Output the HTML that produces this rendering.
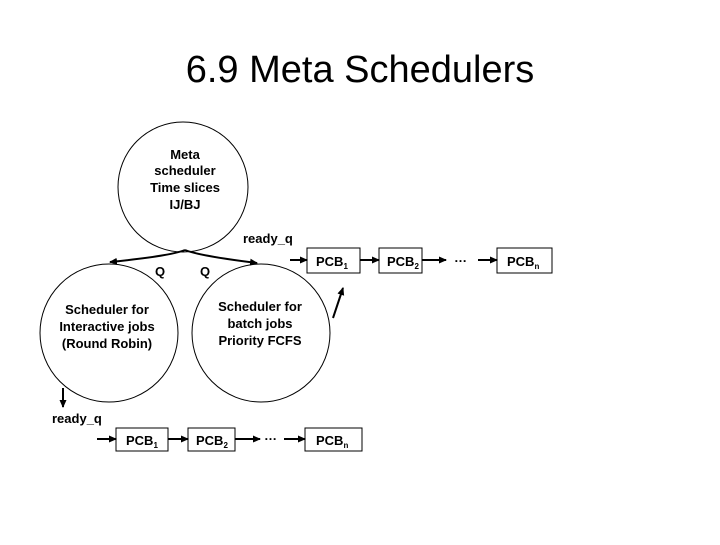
<!DOCTYPE html>
<html><head><style>
body{margin:0;background:#fff;width:720px;height:540px;overflow:hidden}
svg text{font-family:"Liberation Sans",Arial,sans-serif;font-weight:bold;fill:#000}
</style></head><body>
<svg width="720" height="540" viewBox="0 0 720 540" xmlns="http://www.w3.org/2000/svg">
<defs><marker id="a" markerWidth="8" markerHeight="8" refX="7" refY="4" orient="auto" markerUnits="userSpaceOnUse"><path d="M0,0.5 L8,4 L0,7.5z" fill="#000"/></marker></defs>
<text x="360" y="82" text-anchor="middle" style="font-weight:normal;font-size:38px">6.9 Meta Schedulers</text>
<g fill="none" stroke="#000" stroke-width="1">
<circle cx="183" cy="187" r="65"/>
<circle cx="109" cy="333" r="69"/>
<circle cx="261" cy="333" r="69"/>
</g>
<g font-size="13" text-anchor="middle">
<text x="185" y="159">Meta</text><text x="185" y="175">scheduler</text><text x="185" y="192">Time slices</text><text x="185" y="209">IJ/BJ</text>
<text x="107" y="314">Scheduler for</text><text x="107" y="331">Interactive jobs</text><text x="107" y="348">(Round Robin)</text>
<text x="260" y="311">Scheduler for</text><text x="260" y="328">batch jobs</text><text x="260" y="345">Priority FCFS</text>
</g>
<g fill="none" stroke="#000" stroke-width="2">
<path d="M185,250 Q170,256 110,262" marker-end="url(#a)"/>
<path d="M185,250 Q200,256 257,263" marker-end="url(#a)"/>
<line x1="290" y1="260" x2="307" y2="260" marker-end="url(#a)"/>
<line x1="360" y1="260" x2="379" y2="260" marker-end="url(#a)"/>
<line x1="422" y1="260" x2="446" y2="260" marker-end="url(#a)"/>
<line x1="478" y1="260" x2="497" y2="260" marker-end="url(#a)"/>
<line x1="333" y1="318" x2="343" y2="288" marker-end="url(#a)"/>
<line x1="63" y1="388" x2="63" y2="407" marker-end="url(#a)"/>
<line x1="97" y1="439" x2="116" y2="439" marker-end="url(#a)"/>
<line x1="168" y1="439" x2="188" y2="439" marker-end="url(#a)"/>
<line x1="235" y1="439" x2="260" y2="439" marker-end="url(#a)"/>
<line x1="284" y1="439" x2="305" y2="439" marker-end="url(#a)"/>
</g>
<g fill="none" stroke="#000" stroke-width="1">
<rect x="307" y="248" width="53" height="25"/>
<rect x="379" y="248" width="43" height="25"/>
<rect x="497" y="248" width="55" height="25"/>
<rect x="116" y="428" width="52" height="23"/>
<rect x="188" y="428" width="47" height="23"/>
<rect x="305" y="428" width="57" height="23"/>
</g>
<g font-size="13">
<text x="160" y="276" text-anchor="middle">Q</text>
<text x="205" y="276" text-anchor="middle">Q</text>
<text x="243" y="243">ready_q</text>
<text x="52" y="423">ready_q</text>
<text x="316" y="266">PCB<tspan font-size="8" dy="3">1</tspan></text>
<text x="387" y="266">PCB<tspan font-size="8" dy="3">2</tspan></text>
<text x="454" y="262">…</text>
<text x="507" y="266">PCB<tspan font-size="8" dy="3">n</tspan></text>
<text x="126" y="445">PCB<tspan font-size="8" dy="3">1</tspan></text>
<text x="196" y="445">PCB<tspan font-size="8" dy="3">2</tspan></text>
<text x="264" y="440">…</text>
<text x="316" y="445">PCB<tspan font-size="8" dy="3">n</tspan></text>
</g>
</svg>
</body></html>
